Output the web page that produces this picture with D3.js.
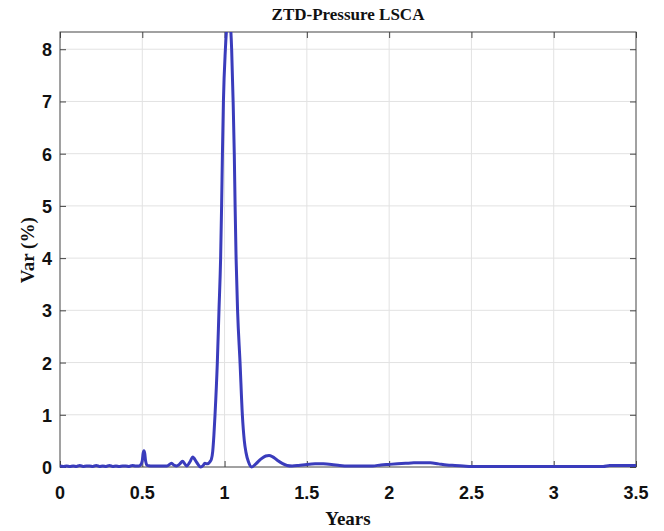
<!DOCTYPE html>
<html>
<head>
<meta charset="utf-8">
<script src="https://cdn.jsdelivr.net/npm/d3@7"></script>
<style>
  body { margin: 0; background: #fff; }
  .tick-label { font-family: 'Liberation Sans', Arial, sans-serif; font-weight: bold; font-size: 18px; fill: #111; }
  .serif { font-family: 'Liberation Serif', 'Times New Roman', serif; font-weight: bold; fill: #111; }
</style>
</head>
<body>
<div id="chart"></div>
<script>
// chart size
var w = 664;
var h = 531;
var margin = { top: 32, right: 28, bottom: 64, left: 60 };

// data (years, variance %)
var years = [
  0.00, 0.02, 0.04, 0.06, 0.08, 0.10, 0.12, 0.14, 0.16, 0.18, 0.20, 0.22, 0.24, 0.26, 0.28, 0.30,
  0.32, 0.34, 0.36, 0.38, 0.40, 0.42, 0.44, 0.46, 0.48, 0.49, 0.50, 0.505, 0.51, 0.515, 0.52, 0.53,
  0.55, 0.60, 0.65, 0.678, 0.695, 0.709, 0.725, 0.745, 0.758, 0.77, 0.79, 0.806, 0.83, 0.855, 0.87,
  0.88, 0.895, 0.911, 0.92, 0.928, 0.935, 0.942, 0.956, 0.966, 0.976, 0.982, 0.987, 0.993, 1.005,
  1.015, 1.025, 1.035, 1.043, 1.052, 1.059, 1.064, 1.070, 1.079, 1.094, 1.108, 1.120, 1.130, 1.145,
  1.165, 1.19, 1.22, 1.25, 1.27, 1.29, 1.32, 1.35, 1.38, 1.41, 1.45, 1.50, 1.55, 1.60, 1.65, 1.70,
  1.75, 1.80, 1.85, 1.90, 1.95, 2.00, 2.05, 2.10, 2.15, 2.20, 2.25, 2.30, 2.35, 2.40, 2.45, 2.50,
  2.60, 2.70, 2.80, 2.90, 3.00, 3.10, 3.20, 3.30, 3.34, 3.40, 3.50
];
var variance = [
  0.02, 0.01, 0.02, 0.01, 0.02, 0.01, 0.03, 0.01, 0.02, 0.02, 0.01, 0.03, 0.01, 0.02, 0.01, 0.03,
  0.01, 0.02, 0.01, 0.02, 0.02, 0.01, 0.03, 0.02, 0.02, 0.04, 0.12, 0.26, 0.31, 0.26, 0.12, 0.03,
  0.02, 0.02, 0.02, 0.07, 0.03, 0.02, 0.05, 0.11, 0.06, 0.02, 0.10, 0.19, 0.09, 0.00, 0.03,
  0.07, 0.06, 0.10, 0.15, 0.30, 0.60, 1.00, 2.00, 3.00, 4.00, 5.00, 6.00, 7.00, 8.00,
  8.50, 8.70, 8.50, 8.00, 7.00, 6.00, 5.00, 4.00, 3.00, 2.00, 1.00, 0.50, 0.28, 0.10,
  0.00, 0.06, 0.15, 0.21, 0.22, 0.20, 0.13, 0.07, 0.03, 0.02, 0.03, 0.05, 0.06, 0.06, 0.05, 0.03,
  0.02, 0.02, 0.02, 0.02, 0.04, 0.05, 0.06, 0.07, 0.08, 0.08, 0.08, 0.06, 0.04, 0.03, 0.02, 0.01,
  0.01, 0.01, 0.01, 0.01, 0.01, 0.01, 0.01, 0.01, 0.03, 0.03, 0.03
];
var xTicks = [0, 0.5, 1, 1.5, 2, 2.5, 3, 3.5];
var yTicks = [0, 1, 2, 3, 4, 5, 6, 7, 8];
var title = 'ZTD-Pressure LSCA';
var xLabel = 'Years';
var yLabel = 'Var (%)';

var points = years.map((y, i) => ({ x: y, v: variance[i] }));

var svg = d3.select('#chart')
  .append('svg')
  .attr('width', w)
  .attr('height', h);

// Scales
var xScale = d3.scaleLinear()
  .domain([0, 3.5])
  .range([margin.left, w - margin.right]);

var yScale = d3.scaleLinear()
  .domain([0, 8.33])
  .range([h - margin.bottom, margin.top]);

var plotW = w - margin.left - margin.right;
var plotH = h - margin.top - margin.bottom;

// Grid lines
svg.append('g')
  .selectAll('line.vgrid')
  .data(xTicks.slice(1, -1))
  .enter()
  .append('line')
  .attr('x1', d => xScale(d))
  .attr('x2', d => xScale(d))
  .attr('y1', margin.top)
  .attr('y2', h - margin.bottom)
  .attr('stroke', '#e2e2e2')
  .attr('stroke-width', 1);

svg.append('g')
  .selectAll('line.hgrid')
  .data(yTicks.slice(1))
  .enter()
  .append('line')
  .attr('x1', margin.left)
  .attr('x2', w - margin.right)
  .attr('y1', d => yScale(d))
  .attr('y2', d => yScale(d))
  .attr('stroke', '#e2e2e2')
  .attr('stroke-width', 1);

// Clip so the peak gets cut at the top
svg.append('clipPath')
  .attr('id', 'plot-clip')
  .append('rect')
  .attr('x', margin.left)
  .attr('y', margin.top)
  .attr('width', plotW)
  .attr('height', plotH + 3);

// Axes with inward ticks on every side
var tickLen = 6;
var axisStyle = function (g) {
  g.select('.domain').remove();
  g.selectAll('.tick line').attr('stroke', '#444');
  g.selectAll('.tick text').remove();
};

svg.append('g')
  .attr('transform', `translate(0, ${h - margin.bottom})`)
  .call(d3.axisBottom(xScale).tickValues(xTicks).tickSize(-tickLen))
  .call(axisStyle);
svg.append('g')
  .attr('transform', `translate(0, ${margin.top})`)
  .call(d3.axisTop(xScale).tickValues(xTicks).tickSize(-tickLen))
  .call(axisStyle);
svg.append('g')
  .attr('transform', `translate(${margin.left}, 0)`)
  .call(d3.axisLeft(yScale).tickValues(yTicks).tickSize(-tickLen))
  .call(axisStyle);
svg.append('g')
  .attr('transform', `translate(${w - margin.right}, 0)`)
  .call(d3.axisRight(yScale).tickValues(yTicks).tickSize(-tickLen))
  .call(axisStyle);

// Tick labels
svg.append('g')
  .selectAll('text')
  .data(xTicks)
  .enter()
  .append('text')
  .attr('class', 'tick-label')
  .attr('x', d => xScale(d))
  .attr('y', h - margin.bottom + 32)
  .attr('text-anchor', 'middle')
  .text(d => d);

svg.append('g')
  .selectAll('text')
  .data(yTicks)
  .enter()
  .append('text')
  .attr('class', 'tick-label')
  .attr('x', margin.left - 8)
  .attr('y', d => yScale(d) + 7)
  .attr('text-anchor', 'end')
  .text(d => d);

// Box
svg.append('rect')
  .attr('x', margin.left)
  .attr('y', margin.top)
  .attr('width', plotW)
  .attr('height', plotH)
  .attr('fill', 'none')
  .attr('stroke', '#444')
  .attr('stroke-width', 1);

// Line
var line = d3.line()
  .x(d => xScale(d.x))
  .y(d => yScale(d.v))
  .curve(d3.curveMonotoneX);

svg.append('path')
  .datum(points)
  .attr('clip-path', 'url(#plot-clip)')
  .attr('d', line)
  .attr('fill', 'none')
  .attr('stroke', '#3a3cbc')
  .attr('stroke-width', 3)
  .attr('stroke-linejoin', 'round');

// Labels
svg.append('text')
  .attr('class', 'serif')
  .attr('x', 348)
  .attr('y', 20)
  .attr('text-anchor', 'middle')
  .attr('font-size', 17)
  .text(title);

svg.append('text')
  .attr('class', 'serif')
  .attr('x', xScale(1.75))
  .attr('y', h - 6)
  .attr('text-anchor', 'middle')
  .attr('font-size', 19)
  .text(xLabel);

svg.append('text')
  .attr('class', 'serif')
  .attr('transform', `translate(34, ${yScale(4.15)}) rotate(-90)`)
  .attr('text-anchor', 'middle')
  .attr('font-size', 19)
  .text(yLabel);
</script>
</body>
</html>
